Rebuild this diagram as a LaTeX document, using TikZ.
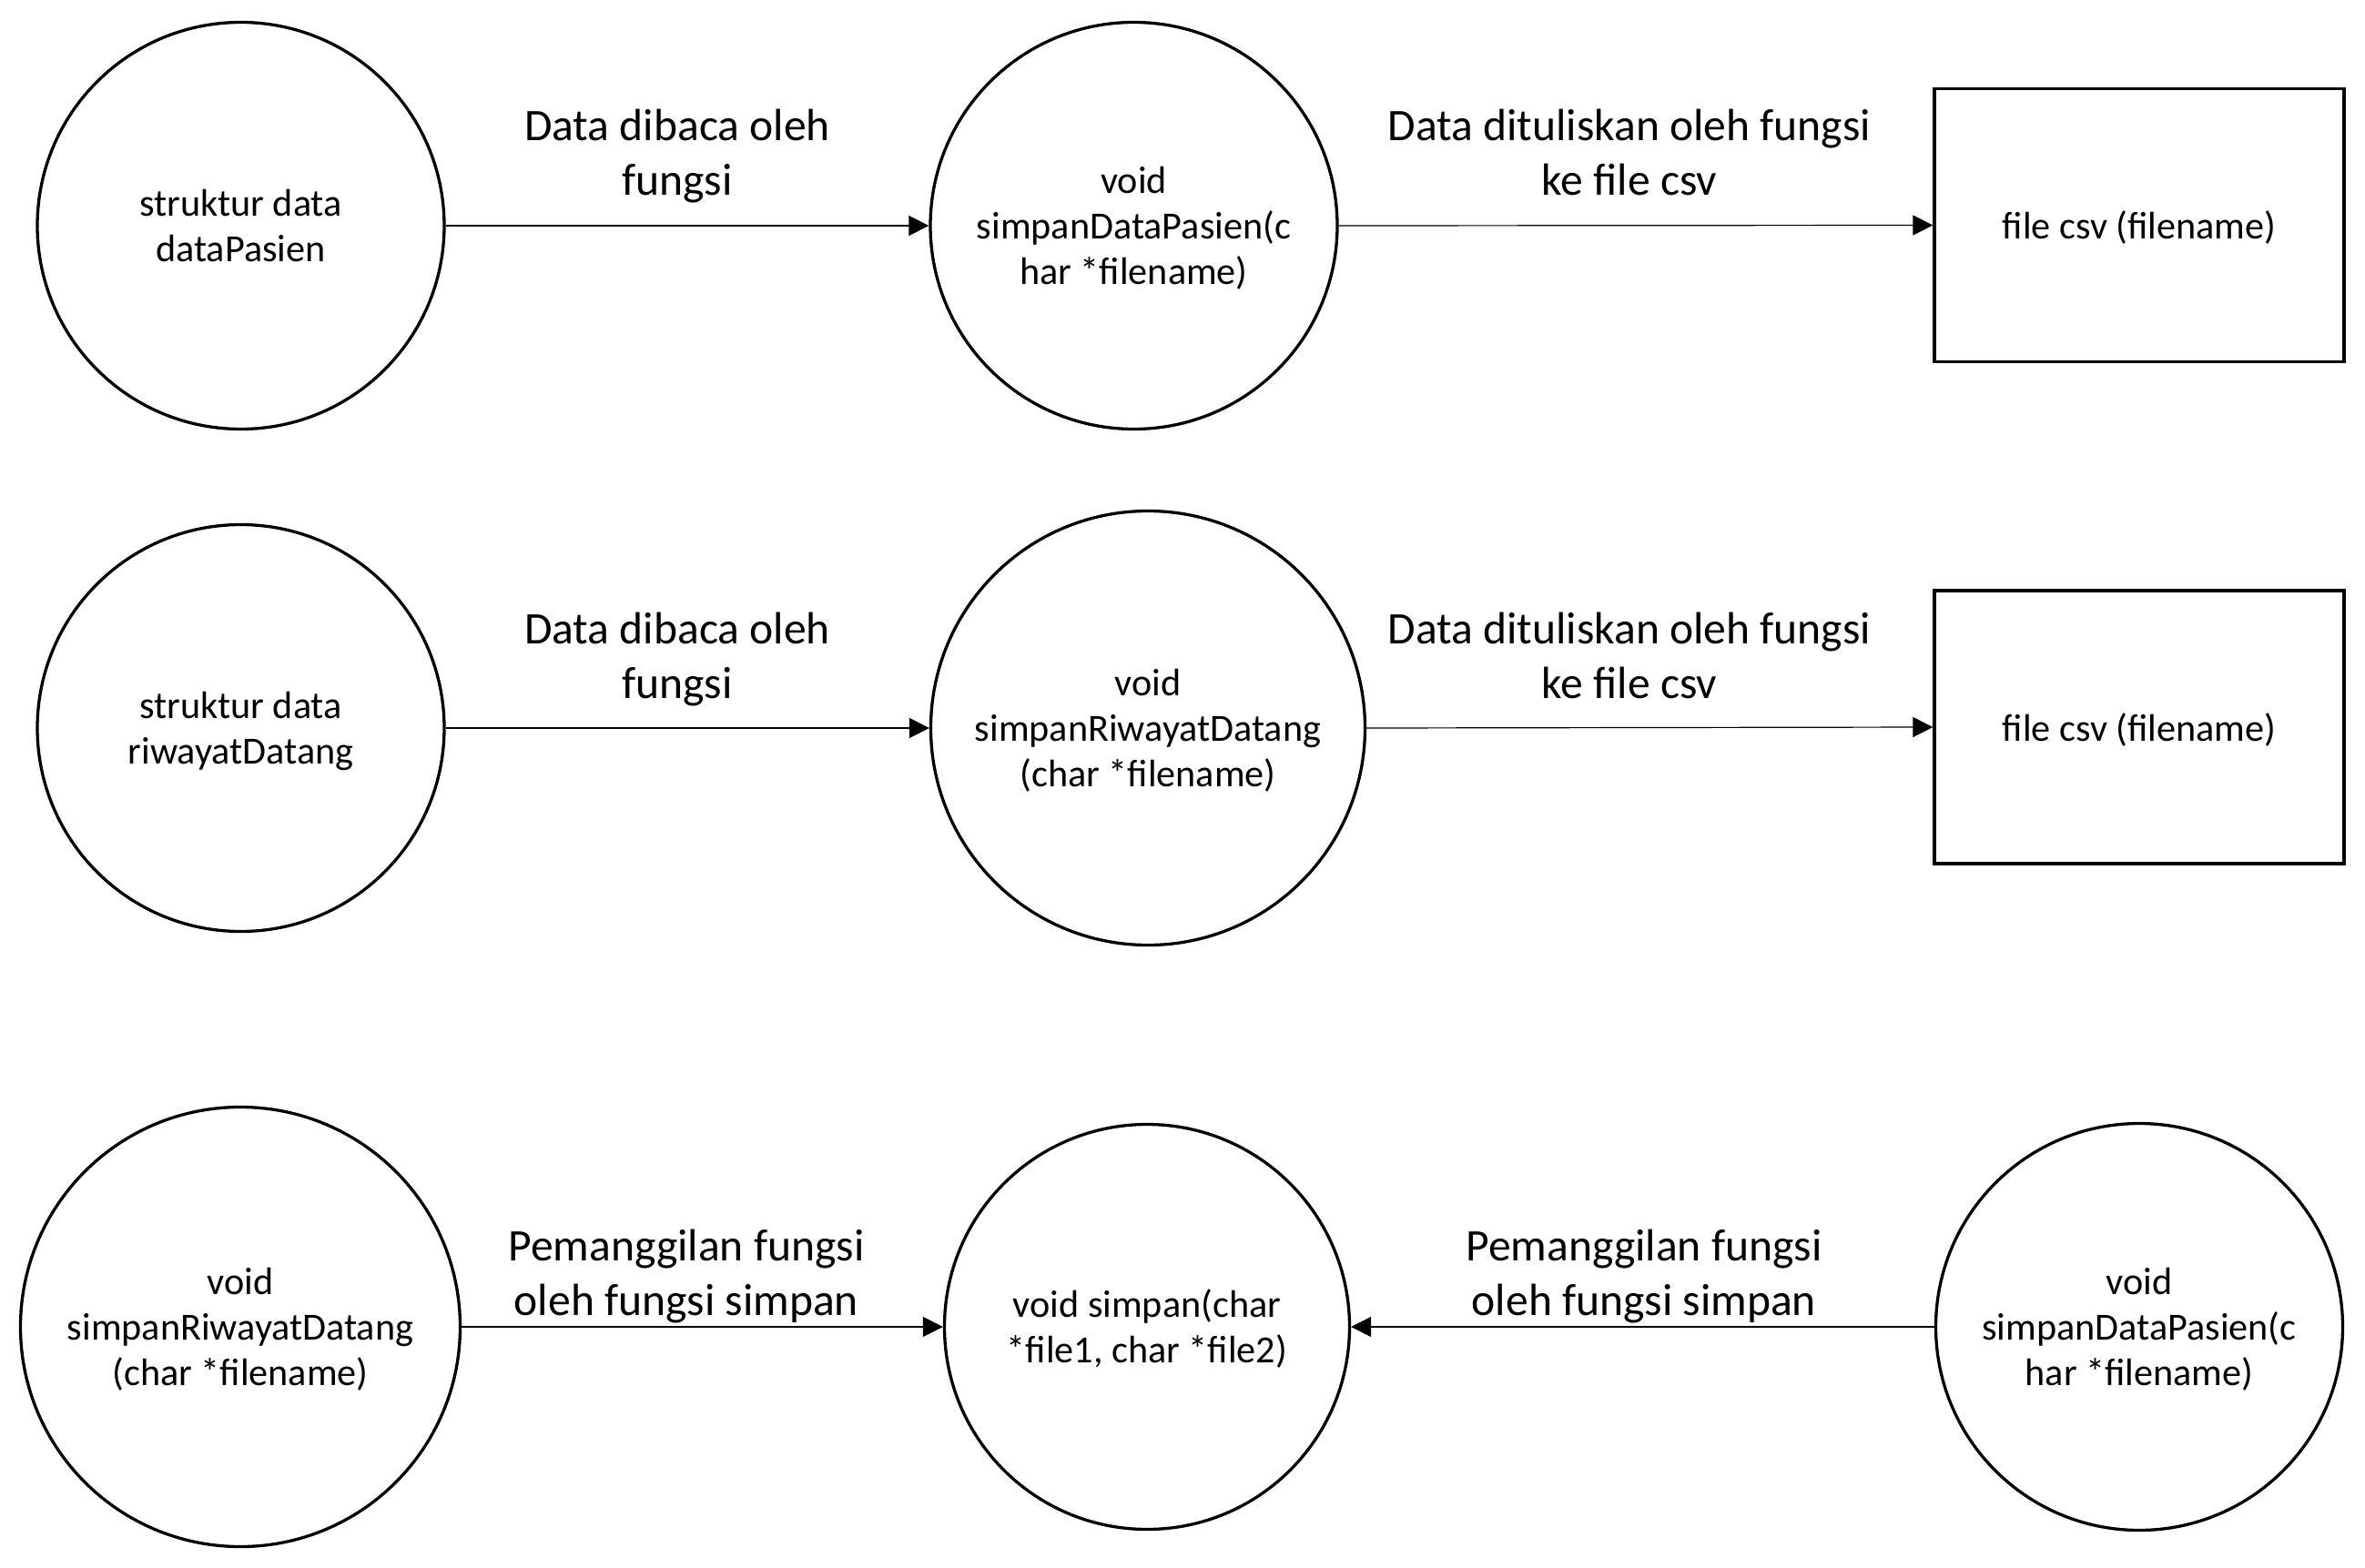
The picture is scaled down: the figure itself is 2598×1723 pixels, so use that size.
\documentclass[tikz,border=0pt]{standalone}
\usepackage{fontspec}
\setmainfont{Carlito}
\usetikzlibrary{arrows.meta}
\newcommand\ndfont{\fontsize{42.2}{50}\selectfont}
\newcommand\lbfont{\fontsize{49.6}{60}\selectfont}
\newcommand\cst{\rule[-11pt]{0pt}{50pt}}
\newcommand\rst{\rule[-10pt]{0pt}{50pt}}
\begin{document}
\begin{tikzpicture}[x=1pt,y=-1pt,
  proc/.style={circle, draw, line width=3.3pt, inner sep=0pt, align=center, font=\ndfont},
  store/.style={rectangle, draw, line width=3.3pt, inner sep=0pt, minimum width=450pt, minimum height=300pt, align=center, font=\ndfont},
  flow/.style={line width=1.2pt, -{Triangle[length=22pt,width=22pt]}},
  lbl/.style={align=center, font=\lbfont, inner sep=0pt}]
\useasboundingbox (0,0) rectangle (2598,1723);
\fill[white] (0,0) rectangle (2598,1723);
% row 1
\node[proc, minimum size=447pt] (A1) at (264.5,248) {\cst struktur data\\\cst dataPasien};
\node[proc, minimum size=447pt] (B1) at (1245.5,248) {\cst void\\\cst simpanDataPasien(c\\\cst har *filename)};
\node[store] (R1) at (2350,247.5) {\rst file csv (filename)};
\draw[flow] (A1.east) -- (B1.west);
\draw[flow] (B1.east) -- (R1.west);
\node[lbl] (L1a) at (744,173) {\strut Data dibaca oleh\\\strut fungsi};
\node[lbl] (L1b) at (1790,173) {\strut Data dituliskan oleh fungsi\\\strut ke file csv};
% row 2
\node[proc, minimum size=447pt] (A2) at (264.5,800) {\cst struktur data\\\cst riwayatDatang};
\node[proc, minimum size=477pt] (B2) at (1261,800) {\cst void\\\cst simpanRiwayatDatang\\\cst (char *filename)};
\node[store] (R2) at (2350,799) {\rst file csv (filename)};
\draw[flow] (A2.east) -- (B2.west);
\draw[flow] (B2.east) -- (R2.west);
\node[lbl] (L2a) at (744,725) {\strut Data dibaca oleh\\\strut fungsi};
\node[lbl] (L2b) at (1790,725) {\strut Data dituliskan oleh fungsi\\\strut ke file csv};
% row 3
\node[proc, minimum size=483pt] (A3) at (264,1458) {\cst void\\\cst simpanRiwayatDatang\\\cst (char *filename)};
\node[proc, minimum size=445pt] (B3) at (1260,1458) {\cst void simpan(char\\\cst *file1, char *file2)};
\node[proc, minimum size=447pt] (C3) at (2350,1458) {\cst void\\\cst simpanDataPasien(c\\\cst har *filename)};
\draw[flow] (A3.east) -- (B3.west);
\draw[flow] (C3.west) -- (B3.east);
\node[lbl] (L3a) at (754,1403) {\strut Pemanggilan fungsi\\\strut oleh fungsi simpan};
\node[lbl] (L3b) at (1806,1403) {\strut Pemanggilan fungsi\\\strut oleh fungsi simpan};
\end{tikzpicture}
\end{document}
